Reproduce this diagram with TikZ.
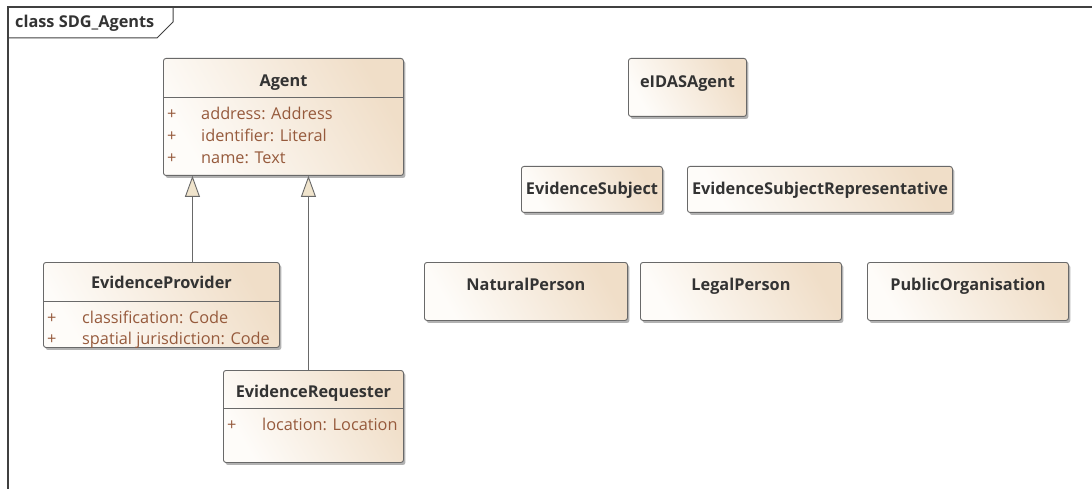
\documentclass[tikz,border=0pt]{standalone}
\usepackage{fontspec}
\setmainfont{Open Sans}
\usetikzlibrary{shadows,arrows.meta}
\definecolor{frameC}{RGB}{64,64,64}
\definecolor{borderC}{RGB}{105,105,105}
\definecolor{tanC}{RGB}{240,222,200}
\definecolor{lightC}{RGB}{254,252,249}
\definecolor{hdrC}{RGB}{51,51,51}
\definecolor{attrC}{RGB}{150,90,60}
\definecolor{triC}{RGB}{240,228,204}
\tikzset{
  cls/.style={draw=borderC, line width=0.9pt, rounded corners=2.5pt, anchor=north west, inner sep=0pt,
     top color=tanC, bottom color=lightC, shading angle=-60,
     drop shadow={shadow xshift=2pt, shadow yshift=-2.5pt, opacity=0.3, fill=black}},
  hdr/.style={font=\fontsize{16.3}{19}\selectfont\bfseries, text=hdrC, inner sep=0pt, text height=14pt, text depth=3pt},
  attr/.style={font=\fontsize{16.3}{19}\selectfont, text=attrC, inner sep=0pt, text height=14pt, text depth=3pt, anchor=west},
  sepline/.style={draw=borderC, line width=0.9pt},
  gen/.style={draw=borderC, line width=0.9pt, -{Triangle[open, length=21pt, width=15pt, fill=triC]}},
}
\begin{document}
\begin{tikzpicture}[x=1pt, y=-1pt]
\useasboundingbox (0,0) rectangle (1092,489);
% frame
\draw[frameC, line width=1.6pt] (8,489) -- (8,7) -- (1092,7);
\draw[frameC, line width=1pt] (8,38) -- (157,38) -- (173,22) -- (173,7);
\node[hdr, anchor=west] (title) at (15,22) {class SDG\_Agents};

% Agent
\node[cls, minimum width=240pt, minimum height=117pt] (agent) at (163,58) {};
\node[hdr] (agentH) at ([yshift=-23pt]agent.north) {Agent};
\draw[sepline] ([yshift=-39pt]agent.north west) -- ([yshift=-39pt]agent.north east);
\node[attr] (agentP1) at ([xshift=4pt,yshift=-56pt]agent.north west) {+};
\node[attr] (agentA1) at ([xshift=38pt,yshift=-56pt]agent.north west) {address: Address};
\node[attr] (agentP2) at ([xshift=4pt,yshift=-78pt]agent.north west) {+};
\node[attr] (agentA2) at ([xshift=38pt,yshift=-78pt]agent.north west) {identifier: Literal};
\node[attr] (agentP3) at ([xshift=4pt,yshift=-100pt]agent.north west) {+};
\node[attr] (agentA3) at ([xshift=38pt,yshift=-100pt]agent.north west) {name: Text};

% EvidenceProvider
\node[cls, minimum width=236pt, minimum height=85pt] (ep) at (43,262) {};
\node[hdr] (epH) at ([yshift=-21pt]ep.north) {EvidenceProvider};
\draw[sepline] ([yshift=-39pt]ep.north west) -- ([yshift=-39pt]ep.north east);
\node[attr] (epP1) at ([xshift=4pt,yshift=-56pt]ep.north west) {+};
\node[attr] (epA1) at ([xshift=39pt,yshift=-56pt]ep.north west) {classification: Code};
\node[attr] (epP2) at ([xshift=4pt,yshift=-77pt]ep.north west) {+};
\node[attr] (epA2) at ([xshift=39pt,yshift=-77pt]ep.north west) {spatial jurisdiction: Code};

% EvidenceRequester
\node[cls, minimum width=180pt, minimum height=92pt] (er) at (223,370) {};
\node[hdr] (erH) at ([yshift=-22pt]er.north) {EvidenceRequester};
\draw[sepline] ([yshift=-38pt]er.north west) -- ([yshift=-38pt]er.north east);
\node[attr] (erP1) at ([xshift=4pt,yshift=-55pt]er.north west) {+};
\node[attr] (erA1) at ([xshift=39pt,yshift=-55pt]er.north west) {location: Location};

% simple classes
\node[cls, minimum width=118pt, minimum height=58pt] (eidas) at (628,58) {};
\node[hdr] (eidasH) at ([yshift=-24pt]eidas.north) {eIDASAgent};
\node[cls, minimum width=141pt, minimum height=46pt] (es) at (521,166) {};
\node[hdr] (esH) at ([yshift=-23pt]es.north) {EvidenceSubject};
\node[cls, minimum width=265pt, minimum height=46pt] (esr) at (687,166) {};
\node[hdr] (esrH) at ([yshift=-23pt]esr.north) {EvidenceSubjectRepresentative};
\node[cls, minimum width=203pt, minimum height=58pt] (np) at (424,262) {};
\node[hdr] (npH) at ([yshift=-23pt]np.north) {NaturalPerson};
\node[cls, minimum width=201pt, minimum height=58pt] (lp) at (640,262) {};
\node[hdr] (lpH) at ([yshift=-23pt]lp.north) {LegalPerson};
\node[cls, minimum width=201pt, minimum height=58pt] (po) at (867,262) {};
\node[hdr] (poH) at ([yshift=-23pt]po.north) {PublicOrganisation};

% generalizations
\draw[gen] ([xshift=31pt]ep.north) -- ([xshift=31pt]ep.north |- agent.south);
\draw[gen] ([xshift=-5pt]er.north) -- ([xshift=-5pt]er.north |- agent.south);
\end{tikzpicture}
\end{document}
